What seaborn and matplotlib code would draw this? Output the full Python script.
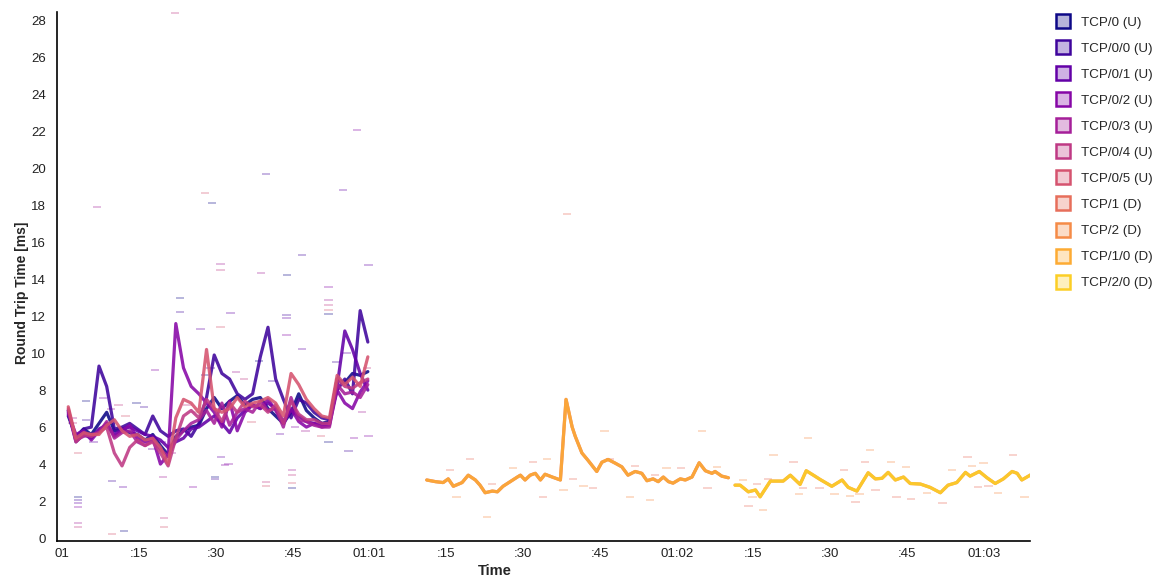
import numpy as np
import pandas as pd
import matplotlib
matplotlib.use("Agg")
import matplotlib.pyplot as plt
import seaborn as sns
from matplotlib.lines import Line2D
from matplotlib.colors import to_rgba

# ---------------- data ----------------
flows = ["TCP/0 (U)", "TCP/0/0 (U)", "TCP/0/1 (U)", "TCP/0/2 (U)", "TCP/0/3 (U)",
         "TCP/0/4 (U)", "TCP/0/5 (U)", "TCP/1 (D)", "TCP/2 (D)", "TCP/1/0 (D)", "TCP/2/0 (D)"]

tick_pos = [0, 15, 30, 45, 60, 75, 90, 105, 120, 135, 150, 165, 180]
tick_labels = ["01", ":15", ":30", ":45", "01:01", ":15", ":30", ":45",
               "01:02", ":15", ":30", ":45", "01:03"]
y_ticks = [0, 2, 4, 6, 8, 10, 12, 14, 16, 18, 20, 22, 24, 26, 28]

u_time = [1.2, 2.7, 4.2, 5.7, 7.2, 8.7, 10.2, 11.7, 13.2, 14.7, 16.2, 17.7, 19.2, 20.7,
          22.2, 23.7, 25.2, 26.7, 28.2, 29.7, 31.2, 32.7, 34.2, 35.7, 37.2, 38.7, 40.2,
          41.7, 43.2, 44.7, 46.2, 47.7, 49.2, 50.7, 52.2, 53.7, 55.2, 56.7, 58.2, 59.7]

tcp_0 = [6.6, 5.5, 5.9, 5.6, 6.2, 6.8, 5.8, 5.9, 5.7, 5.6, 5.3, 5.6, 5.0, 4.5, 5.5, 5.8,
         6.0, 6.1, 7.0, 7.6, 7.0, 7.4, 7.7, 7.2, 7.5, 7.6, 7.0, 6.6, 6.2, 6.8, 7.8, 6.9,
         6.5, 6.2, 6.3, 8.6, 8.4, 8.9, 8.8, 9.0]
tcp_0_0 = [6.9, 5.3, 5.9, 6.0, 9.3, 8.2, 5.9, 6.0, 6.2, 5.9, 5.6, 6.6, 5.8, 5.5, 5.8, 5.9,
           5.5, 6.2, 7.6, 9.9, 8.9, 8.6, 7.8, 7.5, 7.8, 9.8, 11.4, 8.6, 7.5, 6.5, 7.5, 7.3,
           6.8, 6.5, 6.4, 8.0, 8.6, 7.8, 12.3, 10.6]
tcp_0_1 = [6.8, 5.2, 5.6, 5.4, 5.9, 6.1, 5.6, 5.9, 6.0, 5.8, 5.6, 5.5, 5.3, 4.9, 5.2, 5.4,
           5.9, 6.0, 6.3, 6.6, 6.2, 5.7, 6.5, 6.9, 7.2, 7.0, 7.3, 7.0, 6.3, 6.9, 6.6, 6.3,
           6.2, 6.1, 6.2, 8.2, 11.2, 10.2, 8.9, 8.0]
tcp_0_2 = [6.7, 5.6, 5.8, 5.3, 5.8, 6.2, 5.5, 5.8, 6.1, 5.4, 5.2, 5.4, 4.0, 4.5, 11.6, 9.2,
           8.2, 7.8, 7.3, 6.8, 6.0, 7.4, 5.8, 6.8, 7.2, 7.0, 7.5, 6.9, 6.2, 7.0, 6.3, 6.0,
           6.2, 6.0, 6.1, 8.0, 7.3, 7.0, 7.9, 8.5]
tcp_0_3 = [6.9, 5.3, 5.5, 5.6, 5.7, 6.3, 5.4, 5.7, 5.8, 5.2, 5.0, 5.3, 4.8, 4.4, 5.3, 5.8,
           6.2, 6.4, 6.9, 6.2, 7.3, 6.1, 6.8, 7.0, 6.8, 7.4, 6.9, 7.0, 6.0, 7.6, 6.4, 6.3,
           6.1, 6.0, 6.0, 8.3, 7.8, 7.9, 7.6, 8.3]
tcp_0_4 = [7.0, 5.2, 5.6, 5.5, 5.7, 6.0, 4.6, 3.9, 4.9, 5.3, 5.0, 5.2, 4.6, 3.9, 5.4, 6.6,
           6.9, 6.5, 7.5, 7.0, 6.3, 7.3, 6.8, 7.4, 7.1, 7.2, 6.8, 7.2, 6.2, 7.4, 6.7, 6.4,
           6.4, 6.2, 6.2, 8.6, 8.2, 8.1, 8.4, 8.6]
tcp_0_5 = [7.1, 5.4, 5.7, 5.6, 5.6, 6.1, 6.4, 5.8, 5.5, 5.6, 5.3, 5.4, 4.9, 4.0, 6.5, 7.5,
           7.3, 6.8, 10.2, 7.0, 6.8, 7.0, 7.6, 7.1, 7.3, 7.4, 7.6, 7.3, 6.6, 8.9, 8.3, 7.5,
           7.0, 6.6, 6.5, 8.8, 8.3, 8.7, 8.2, 9.8]

d1_time = [71.2, 72.9, 74.4, 75.4, 76.4, 78.1, 79.3, 80.7, 81.6, 82.6, 84.0, 85.0, 86.1,
           87.5, 88.9, 89.5, 90.4, 91.4, 92.4, 93.4, 94.3, 95.7, 97.3, 98.4, 99.6, 100.2,
           101.5, 102.7, 104.4, 105.4, 106.6, 108.0, 109.3, 110.5, 111.9, 113.2, 114.2,
           115.4, 116.4, 117.4, 118.4, 119.3, 120.7, 121.7, 123.0, 124.4, 125.6, 126.9,
           127.5, 128.8, 130.1]
d1_rtt = [3.14, 3.05, 3.0, 3.2, 2.8, 3.0, 3.4, 3.14, 2.86, 2.45, 2.54, 2.5, 2.8, 3.05,
          3.3, 3.4, 3.14, 3.4, 3.5, 3.14, 3.45, 3.3, 3.14, 7.5, 6.0, 5.5, 4.6, 4.2, 3.6,
          4.1, 4.25, 4.05, 3.85, 3.4, 3.6, 3.5, 3.1, 3.2, 3.05, 3.3, 3.05, 2.97, 3.2, 3.14,
          3.3, 4.07, 3.64, 3.5, 3.6, 3.35, 3.26]

d2_time = [131.4, 132.4, 134.0, 135.4, 136.3, 138.3, 140.8, 142.2, 144.1, 145.3, 146.7,
           148.0, 150.3, 152.3, 153.5, 155.2, 157.4, 158.8, 160.1, 161.3, 162.7, 164.3,
           165.6, 167.6, 169.5, 171.5, 173.0, 174.7, 176.4, 177.3, 179.1, 180.6, 182.2,
           183.8, 185.5, 186.5, 187.4, 189.4]
d2_rtt = [2.86, 2.86, 2.5, 2.6, 2.23, 3.08, 3.08, 3.4, 2.9, 3.64, 3.4, 3.17, 2.8, 3.14,
          2.74, 2.54, 3.53, 3.2, 3.23, 3.55, 3.14, 3.3, 2.95, 2.92, 2.74, 2.45, 2.86, 3.0,
          3.55, 3.35, 3.6, 3.26, 2.95, 3.2, 3.6, 3.5, 3.14, 3.46]

# individual samples (drawn as small dashes)
u_sample_time = [3.1, 3.1, 3.1, 3.1, 3.1, 3.1, 9.8, 12.1, 9.8, 11.9, 18.2, 19.7, 19.9, 19.9,
                 23.0, 23.0, 27.0, 25.6, 30.9, 30.9, 30.9, 29.9, 29.9, 32.9, 31.8, 38.9,
                 39.8, 39.8, 43.9, 43.8, 43.8, 43.8, 44.9, 44.9, 44.9, 44.9, 46.8, 46.8,
                 52.0, 52.0, 52.0, 52.0, 52.0, 55.9, 59.8, 59.8, 6.8, 22.1, 27.9, 29.3,
                 39.8, 54.9, 57.6, 2.0, 2.0, 3.1, 4.6, 4.6, 6.1, 8.0, 9.5, 11.0, 12.4, 14.5,
                 16.0, 17.5, 19.5, 21.5, 24.5, 26.0, 28.0, 29.0, 31.0, 32.5, 34.0, 35.5,
                 37.0, 38.5, 41.0, 42.5, 45.5, 47.5, 49.0, 50.5, 52.0, 53.5, 55.5, 57.0,
                 58.5, 59.5]
u_sample_rtt = [2.2, 2.05, 1.9, 1.7, 0.8, 0.6, 0.2, 0.4, 3.1, 2.75, 9.1, 3.3, 1.1, 0.6,
                13.0, 12.2, 11.3, 2.75, 14.8, 14.5, 11.4, 3.3, 3.2, 12.15, 3.95, 14.35,
                3.05, 2.8, 14.2, 12.05, 11.9, 11.0, 3.7, 3.4, 3.0, 2.7, 15.3, 10.2, 13.6,
                12.9, 12.6, 12.35, 12.1, 4.7, 14.75, 5.5, 17.9, 28.4, 18.65, 18.1, 19.7,
                18.8, 22.05, 6.5, 6.2, 4.6, 7.4, 6.4, 5.2, 7.6, 7.0, 7.2, 6.6, 7.3, 7.1,
                4.8, 5.2, 4.6, 7.2, 6.8, 8.8, 9.2, 4.4, 4.0, 9.0, 8.6, 6.3, 9.6, 8.5, 5.6,
                6.0, 5.8, 6.2, 5.5, 5.2, 9.5, 10.0, 5.4, 6.8, 9.2]

d_sample_time = [75.8, 77.0, 79.7, 83.0, 84.0, 88.1, 92.0, 94.7, 93.9, 97.9, 99.8, 101.8,
                 103.7, 105.9, 107.0, 110.9, 111.9, 114.8, 115.8, 118.0, 120.9, 125.0,
                 126.0, 127.9, 98.6, 133.0, 134.0, 134.8, 135.7, 136.9, 137.9, 138.9,
                 142.8, 143.9, 144.7, 145.7, 147.9, 150.8, 152.7, 153.9, 154.9, 155.7,
                 156.8, 157.8, 158.8, 161.9, 162.9, 164.8, 165.8, 168.9, 171.9, 173.8,
                 176.8, 177.7, 178.9, 179.9, 180.9, 182.8, 185.7, 187.9]
d_sample_rtt = [3.7, 2.2, 4.3, 1.15, 2.9, 3.8, 4.1, 4.3, 2.2, 2.6, 3.2, 2.8, 2.7, 5.8,
                4.3, 2.2, 3.9, 2.05, 3.4, 3.8, 3.8, 5.8, 2.7, 3.85, 17.5, 3.14, 1.75, 2.2,
                2.9, 1.5, 3.2, 4.5, 4.1, 2.4, 2.7, 5.4, 2.7, 2.4, 3.7, 2.3, 1.96, 2.4, 4.1,
                4.75, 2.6, 4.1, 2.2, 3.85, 2.1, 2.45, 1.9, 3.7, 4.4, 3.9, 2.74, 4.07, 2.8,
                2.45, 4.5, 2.2]

# ---------------- tables ----------------
u_series = [tcp_0, tcp_0_0, tcp_0_1, tcp_0_2, tcp_0_3, tcp_0_4, tcp_0_5]
rows = []
for name, vals in zip(flows[:7], u_series):
    for t, v in zip(u_time, vals):
        rows.append((name, t, v))
for name, tt, vv in [("TCP/1 (D)", d1_time, d1_rtt), ("TCP/2 (D)", d2_time, d2_rtt),
                     ("TCP/1/0 (D)", d1_time, d1_rtt), ("TCP/2/0 (D)", d2_time, d2_rtt)]:
    for t, v in zip(tt, vv):
        rows.append((name, t, v))
lines_df = pd.DataFrame(rows, columns=["flow", "time", "rtt"])

u_names = flows[:7]
s_rows = [(u_names[i % 7], t, v) for i, (t, v) in enumerate(zip(u_sample_time, u_sample_rtt))]
s_rows += [(["TCP/1 (D)", "TCP/2 (D)"][i % 2], t, v)
           for i, (t, v) in enumerate(zip(d_sample_time, d_sample_rtt))]
samples_df = pd.DataFrame(s_rows, columns=["flow", "time", "rtt"])

# ---------------- style ----------------
sns.set_theme(style="white")
plt.rcParams["font.family"] = ["Liberation Sans", "DejaVu Sans"]

cmap = matplotlib.colormaps["plasma"]
pal_list = [cmap(v) for v in np.linspace(0.0, 0.9, len(flows))]
palette = dict(zip(flows, pal_list))

fig = plt.figure(figsize=(11.69, 5.78), dpi=100)
ax = fig.add_axes([57 / 1169, 1 - 541 / 578, (1030 - 57) / 1169, (541 - 12) / 578])

sns.scatterplot(data=samples_df, x="time", y="rtt", hue="flow", palette=palette,
                marker="_", s=36, linewidth=1.2, alpha=0.35, legend=False, ax=ax)
sns.lineplot(data=lines_df, x="time", y="rtt", hue="flow", hue_order=flows,
             palette=palette, estimator=None, sort=False, lw=2.3, alpha=0.88,
             legend=False, ax=ax)

ax.set_xlim(-1, 189)
ax.set_ylim(-0.16, 28.45)
ax.set_xticks(tick_pos)
ax.set_xticklabels(tick_labels)
ax.set_yticks(y_ticks)
ax.tick_params(axis="x", direction="in", length=5, width=1, color="black",
               labelsize=9.5, labelcolor="#222222", pad=5)
ax.tick_params(axis="y", direction="out", length=5, width=1, color="black",
               labelsize=9.5, labelcolor="#222222", pad=3)
for side in ["top", "right"]:
    ax.spines[side].set_visible(False)
for side in ["left", "bottom"]:
    ax.spines[side].set_color("black")
    ax.spines[side].set_linewidth(1.2)
ax.grid(False)

ax.set_xlabel("Time", fontweight="bold", fontsize=10.5)
ax.xaxis.set_label_coords((495 - 57) / 973, -0.043)
ax.set_ylabel("Round Trip Time [ms]", fontweight="bold", fontsize=10)
ax.yaxis.set_label_coords(-0.029, 0.47)

handles = [Line2D([], [], ls="", marker="s", markersize=10,
                  markerfacecolor=to_rgba(palette[f], 0.3),
                  markeredgecolor=palette[f], markeredgewidth=1.8) for f in flows]
fig.legend(handles, flows, loc="upper left", bbox_to_anchor=(1051 / 1169, 1 - 11 / 578),
           frameon=False, fontsize=9.6, labelspacing=1.03, handlelength=1.0,
           handletextpad=0.85, borderaxespad=0)

fig.savefig("out.png", dpi=100)
